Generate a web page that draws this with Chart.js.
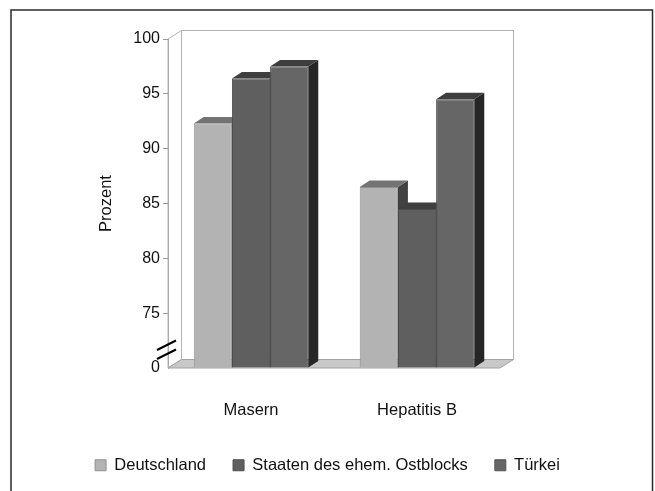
<!DOCTYPE html>
<html>
<head>
<meta charset="utf-8">
<title>Impfquoten</title>
<script src="https://cdn.jsdelivr.net/npm/chart.js@4.4.1/dist/chart.umd.min.js"></script>
<style>
  html, body { margin: 0; padding: 0; background: #ffffff; }
</style>
</head>
<body>
<canvas id="chart" width="655" height="491"></canvas>
<script>
// ---- data ----
const categories = ["Masern", "Hepatitis B"];
const seriesNames = ["Deutschland", "Staaten des ehem. Ostblocks", "Türkei"];
const deutschland = [92.3, 86.5];
const ostblock = [96.4, 84.5];
const tuerkei = [97.5, 94.5];
// broken axis: the lowest tick (70) is labelled "0"
const yTicks = [70, 75, 80, 85, 90, 95, 100];
const yTickLabels = ["0", "75", "80", "85", "90", "95", "100"];

// ---- styling ----
const frontColors = ["#b3b3b3", "#5f5f5f", "#666666"];
const borderColors = ["#909090", "#4c4c4c", "#555555"];
const topColors = ["#737373", "#3f3f3f", "#3e3e3e"];
const sideColors = ["#424242", "#2c2c2c", "#262626"];
const FONT = "'Liberation Sans', Arial, sans-serif";

// 3D offsets (pixels)
const bar3d = { dx: 10, dy: -6.5 };
const wall3d = { dx: 13.5, dy: -8.5 };

// draws the box (walls + floor), the frame, and the bar tops / sides
const box3d = {
  id: "box3d",
  beforeDraw(chart) {
    const ctx = chart.ctx;
    const a = chart.chartArea;
    ctx.save();

    // outer frame
    ctx.strokeStyle = "#2a2a2a";
    ctx.lineWidth = 1.5;
    ctx.strokeRect(11, 10, 641.5, 520);

    // left wall
    ctx.lineWidth = 1;
    ctx.strokeStyle = "#b4b4b4";
    ctx.fillStyle = "#ffffff";
    ctx.beginPath();
    ctx.moveTo(a.left, a.top);
    ctx.lineTo(a.left + wall3d.dx, a.top + wall3d.dy);
    ctx.lineTo(a.left + wall3d.dx, a.bottom + wall3d.dy);
    ctx.lineTo(a.left, a.bottom);
    ctx.closePath();
    ctx.fill();
    ctx.stroke();

    // back wall
    ctx.strokeRect(a.left + wall3d.dx, a.top + wall3d.dy, a.right - a.left, a.bottom - a.top);

    // floor
    ctx.fillStyle = "#c8c8c8";
    ctx.strokeStyle = "#a2a2a2";
    ctx.beginPath();
    ctx.moveTo(a.left, a.bottom);
    ctx.lineTo(a.left + wall3d.dx, a.bottom + wall3d.dy);
    ctx.lineTo(a.right + wall3d.dx, a.bottom + wall3d.dy);
    ctx.lineTo(a.right, a.bottom);
    ctx.closePath();
    ctx.fill();
    ctx.stroke();
    ctx.restore();
  },
  beforeDatasetsDraw(chart) {
    const ctx = chart.ctx;
    const a = chart.chartArea;
    ctx.save();
    // left to right, so that later bars cover earlier sides
    categories.forEach((c, i) => {
      chart.data.datasets.forEach((ds, d) => {
        const el = chart.getDatasetMeta(d).data[i];
        const x0 = el.x - el.width / 2;
        const x1 = el.x + el.width / 2;
        const y = el.y;
        const base = Math.min(el.base, a.bottom);
        // side face
        ctx.fillStyle = sideColors[d];
        ctx.beginPath();
        ctx.moveTo(x1, y);
        ctx.lineTo(x1 + bar3d.dx, y + bar3d.dy);
        ctx.lineTo(x1 + bar3d.dx, base + bar3d.dy);
        ctx.lineTo(x1, base);
        ctx.closePath();
        ctx.fill();
        // top face
        ctx.fillStyle = topColors[d];
        ctx.beginPath();
        ctx.moveTo(x0, y);
        ctx.lineTo(x0 + bar3d.dx, y + bar3d.dy);
        ctx.lineTo(x1 + bar3d.dx, y + bar3d.dy);
        ctx.lineTo(x1, y);
        ctx.closePath();
        ctx.fill();
      });
    });
    ctx.restore();
  },
  afterDraw(chart) {
    // axis break marks
    const ctx = chart.ctx;
    const a = chart.chartArea;
    ctx.save();
    ctx.strokeStyle = "#000000";
    ctx.lineWidth = 2;
    ctx.beginPath();
    ctx.moveTo(a.left - 11, a.bottom - 18);
    ctx.lineTo(a.left + 8, a.bottom - 27.5);
    ctx.moveTo(a.left - 11, a.bottom - 9);
    ctx.lineTo(a.left + 8, a.bottom - 18.5);
    ctx.stroke();
    ctx.restore();
  }
};

const seriesValues = [deutschland, ostblock, tuerkei];

new Chart(document.getElementById("chart"), {
  type: "bar",
  data: {
    labels: categories,
    datasets: seriesNames.map((name, d) => ({
      label: name,
      data: seriesValues[d],
      base: yTicks[0],
      backgroundColor: frontColors[d],
      borderColor: borderColors[d],
      borderWidth: 1,
      categoryPercentage: 0.69,
      barPercentage: 1.0
    }))
  },
  options: {
    responsive: false,
    animation: false,
    devicePixelRatio: 1,
    layout: { padding: { top: 39, bottom: 7.5, left: 0, right: 0 } },
    plugins: {
      legend: {
        position: "bottom",
        labels: {
          boxWidth: 11,
          boxHeight: 11,
          padding: 27,
          color: "#111111",
          font: { family: FONT, size: 16.5 }
        }
      },
      tooltip: { enabled: false }
    },
    scales: {
      x: {
        grid: { display: false, drawTicks: false, tickLength: 0 },
        border: { display: false },
        ticks: { padding: 33, color: "#111111", font: { family: FONT, size: 16.5 } },
        afterFit: (s) => { s.height = 62; }
      },
      y: {
        min: 70,
        max: 100,
        afterBuildTicks: (s) => { s.ticks = yTicks.map((v) => ({ value: v })); },
        ticks: {
          padding: 3,
          color: "#111111",
          font: { family: FONT, size: 16 },
          callback: (v) => yTickLabels[yTicks.indexOf(v)]
        },
        grid: {
          drawOnChartArea: false,
          tickLength: 5,
          color: (c) => (c.tick && c.tick.value === 70 ? "rgba(0,0,0,0)" : "#9a9a9a")
        },
        border: { color: "#a8a8a8" },
        title: {
          display: true,
          text: "Prozent",
          color: "#111111",
          font: { family: FONT, size: 16.5 },
          padding: { top: 97, bottom: 0 }
        },
        afterFit: (s) => { s.width = 168; }
      },
      yR: {
        position: "right",
        ticks: { display: false },
        grid: { display: false },
        border: { display: false },
        afterFit: (s) => { s.width = 155; }
      }
    }
  },
  plugins: [box3d]
});
</script>
</body>
</html>
